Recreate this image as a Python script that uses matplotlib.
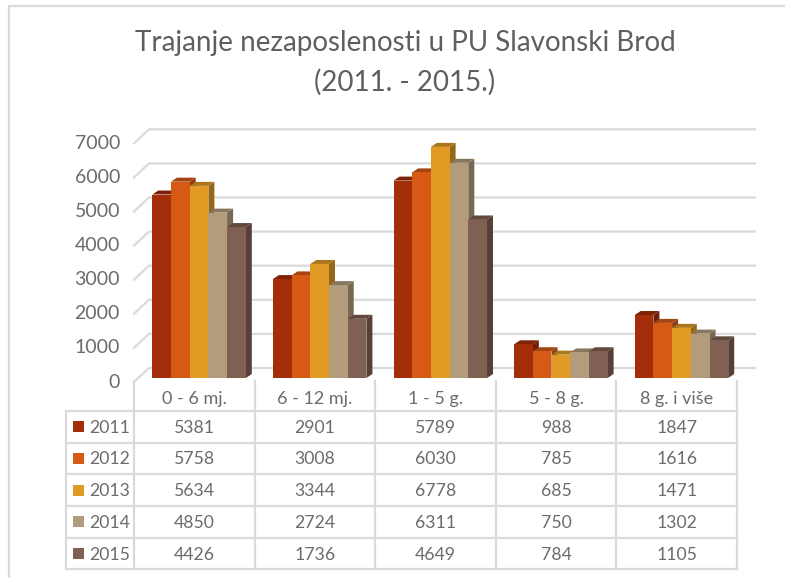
import matplotlib
matplotlib.use('Agg')
import matplotlib.pyplot as plt
from matplotlib.patches import Polygon
from matplotlib.transforms import Affine2D

# data
kategorije = ['0 - 6 mj.', '6 - 12 mj.', '1 - 5 g.', '5 - 8 g.', '8 g. i više']
godine = ['2011', '2012', '2013', '2014', '2015']
v2011 = [5381, 2901, 5789, 988, 1847]
v2012 = [5758, 3008, 6030, 785, 1616]
v2013 = [5634, 3344, 6778, 685, 1471]
v2014 = [4850, 2724, 6311, 750, 1302]
v2015 = [4426, 1736, 4649, 784, 1105]
y_ticks = [0, 1000, 2000, 3000, 4000, 5000, 6000, 7000]

serije = [v2011, v2012, v2013, v2014, v2015]
boje = ['#A52E0A', '#D65A14', '#E19A24', '#B39C7C', '#7F6052']
boje_top = ['#7E2308', '#A34510', '#AB751B', '#88775E', '#61493E']
boje_side = ['#6E1F07', '#8F3C0E', '#96671A', '#776852', '#553F36']

W, H = 785, 578
SIVA = '#DADADA'
TEKST = '#6B6B6B'
FONT = 'Lato'

# pixel layout of the front plane of the 3D look
X0, CAT_W = 134.0, 120.6
Y0, PX_PER_UNIT = 378.0, 34.1 / 1000

fig = plt.figure(figsize=(W / 100, H / 100), dpi=100)
ax = fig.add_axes([0, 0, 1, 1])
ax.set_xlim(-X0 / CAT_W, (W - X0) / CAT_W)
ax.set_ylim(-(H - Y0) / PX_PER_UNIT, Y0 / PX_PER_UNIT)
ax.axis('off')

# pixel coordinates, y pointing down, for the table and frame
px = Affine2D().scale(1, -1).translate(0, H)

dx_bar = 6.0 / CAT_W
dy_bar = 4.0 / PX_PER_UNIT
bar_w = 18.7 / CAT_W
start = 18.3 / CAT_W

# back wall gridlines with the short slanted piece on the left
dx_wall = 15 / CAT_W
y_floor = -4.0 / PX_PER_UNIT
y_wall = 10.0 / PX_PER_UNIT
for t in y_ticks:
    ax.plot([0, dx_wall, 5 + 18 / CAT_W], [t + y_floor, t + y_wall, t + y_wall],
            color=SIVA, lw=1.6, zorder=1, solid_joinstyle='miter')
    ax.text(-14 / CAT_W, t + y_floor, str(t), ha='right', va='center',
            fontsize=14, color=TEKST, family=FONT)

# bars: front face plus top and side polygons
for k in range(len(kategorije)):
    for s in range(len(godine)):
        lijevo = k + start + s * bar_w
        desno = lijevo + bar_w
        v = serije[s][k]
        ax.add_patch(Polygon([(desno, 0), (desno + dx_bar, dy_bar), (desno + dx_bar, v + dy_bar), (desno, v)],
                             fc=boje_side[s], ec='none', zorder=3 + s))
        ax.add_patch(Polygon([(lijevo, v), (lijevo + dx_bar, v + dy_bar), (desno + dx_bar, v + dy_bar), (desno, v)],
                             fc=boje_top[s], ec='none', zorder=3 + s))
        ax.bar(lijevo, v, width=bar_w, align='edge', color=boje[s], zorder=3 + s)

# data table
stup_x = [X0 + i * CAT_W for i in range(len(kategorije) + 1)]
red_y = [411, 442.7, 474.3, 506, 537.7, 569.3]
TAB_L = 66
for x in stup_x:
    ax.plot([x, x], [381, red_y[-1]], color=SIVA, lw=1.6, transform=px, zorder=1)
ax.plot([TAB_L, TAB_L], [red_y[0], red_y[-1]], color=SIVA, lw=1.6, transform=px, zorder=1)
for y in red_y:
    ax.plot([TAB_L, stup_x[-1]], [y, y], color=SIVA, lw=1.6, transform=px, zorder=1)

for k, naziv in enumerate(kategorije):
    xc = X0 + (k + 0.5) * CAT_W
    ax.text(xc, 399, naziv, ha='center', va='center', fontsize=13, color=TEKST, family=FONT, transform=px)
    for s in range(len(godine)):
        yc = (red_y[s] + red_y[s + 1]) / 2
        ax.text(xc, yc + 1, str(serije[s][k]), ha='center', va='center', fontsize=12.7,
                color=TEKST, family=FONT, transform=px)

for s, god in enumerate(godine):
    yc = (red_y[s] + red_y[s + 1]) / 2
    ax.add_patch(Polygon([(73, yc - 5.5), (84, yc - 5.5), (84, yc + 5.5), (73, yc + 5.5)],
                         fc=boje[s], ec='none', transform=px))
    ax.text(89, yc + 1, god, ha='left', va='center', fontsize=12.7, color=TEKST, family=FONT, transform=px)

# title
ax.text(405, 43, 'Trajanje nezaposlenosti u PU Slavonski Brod', ha='center', va='center',
        fontsize=20, color='#5F5F5F', family=FONT, transform=px)
ax.text(405, 82, '(2011. - 2015.)', ha='center', va='center',
        fontsize=20, color='#5F5F5F', family=FONT, transform=px)

# frame of the screenshot, only top and left edges are visible
ax.plot([9, 9, W], [H, 6, 6], color=SIVA, lw=1.6, transform=px, zorder=1)

fig.savefig('out.png', dpi=100)
